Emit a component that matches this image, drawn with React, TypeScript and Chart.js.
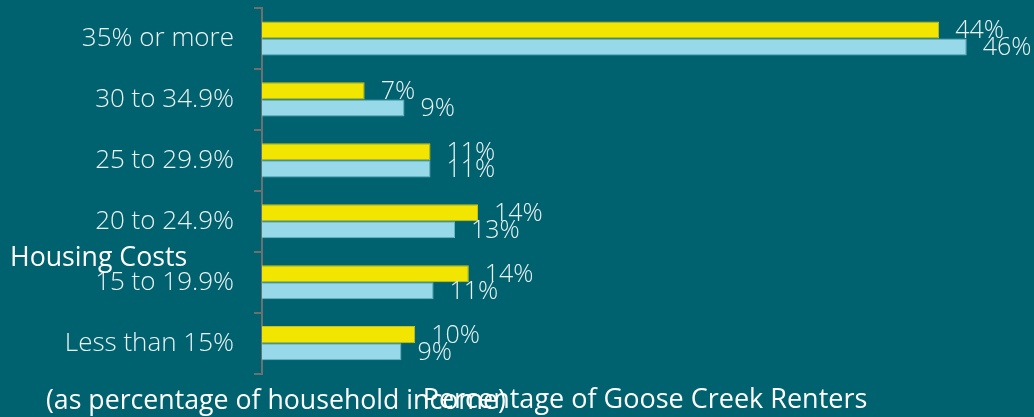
import React, { useEffect, useRef } from "react";
import { Chart, registerables } from "chart.js";

Chart.register(...registerables);

// ---- Data ----
const categories = [
  "35% or more",
  "30 to 34.9%",
  "25 to 29.9%",
  "20 to 24.9%",
  "15 to 19.9%",
  "Less than 15%",
];
const seriesYellow = [44.2, 6.7, 11.0, 14.1, 13.5, 10.0];
const seriesBlue = [46.0, 9.3, 11.0, 12.6, 11.2, 9.1];
const seriesNames = ["Goose Creek Renters", "Comparison"];
const xTitle = "Percentage of Goose Creek Renters";
const yTitleMain = "Housing Costs";
const yTitleSub = "(as percentage of household income)";
const xMax = 50;

// ---- Styles ----
const BG = "#00616f";
const YELLOW = "#f2e500";
const YELLOW_BORDER = "#c9c21a";
const BLUE = "#97d9e8";
const BLUE_BORDER = "#6ab7c6";
const AXIS_GREY = "#6f6f6f";
const TEXT = "#eaf2f4";
const TITLE = "#ffffff";
const FONT = "'Open Sans', 'Noto Sans', sans-serif";

const valueLabels = {
  id: "valueLabels",
  afterDatasetsDraw(chart: any) {
    const ctx = chart.ctx;
    ctx.save();
    ctx.font = `300 25px ${FONT}`;
    ctx.fillStyle = TEXT;
    ctx.textBaseline = "middle";
    ctx.textAlign = "left";
    chart.data.datasets.forEach((ds: any, i: number) => {
      chart.getDatasetMeta(i).data.forEach((el: any, j: number) => {
        const v = ds.data[j];
        ctx.fillText(Math.round(v) + "%", el.x + 16, el.y + 1);
      });
    });
    ctx.restore();
  },
};

const yTitlePlugin = {
  id: "yTitlePlugin",
  afterDraw(chart: any) {
    const ctx = chart.ctx;
    ctx.save();
    ctx.font = `400 26.7px ${FONT}`;
    ctx.fillStyle = TITLE;
    ctx.textBaseline = "middle";
    ctx.textAlign = "left";
    ctx.fillText(yTitleMain, 10, 258);
    ctx.fillText(yTitleSub, 46, 401);
    ctx.restore();
  },
};

export default function App() {
  const ref = useRef<HTMLCanvasElement | null>(null);

  useEffect(() => {
    if (!ref.current) return;
    const chart = new Chart(ref.current, {
      type: "bar",
      data: {
        labels: categories,
        datasets: [
          {
            label: seriesNames[0],
            data: seriesYellow,
            backgroundColor: YELLOW,
            borderColor: YELLOW_BORDER,
            borderWidth: 1,
            categoryPercentage: 0.56,
            barPercentage: 1,
          },
          {
            label: seriesNames[1],
            data: seriesBlue,
            backgroundColor: BLUE,
            borderColor: BLUE_BORDER,
            borderWidth: 1,
            categoryPercentage: 0.56,
            barPercentage: 1,
          },
        ],
      },
      options: {
        indexAxis: "y",
        responsive: false,
        animation: false,
        layout: { padding: { top: 8, right: 6, bottom: 0, left: 0 } },
        plugins: {
          legend: { display: false },
          tooltip: { enabled: false },
        },
        scales: {
          x: {
            min: 0,
            max: xMax,
            ticks: { display: false },
            grid: { display: false },
            border: { display: false },
            title: {
              display: true,
              text: xTitle,
              color: TITLE,
              font: { family: FONT, size: 27, weight: "400" },
              padding: { top: 3, bottom: 0 },
            },
            afterFit(scale: any) {
              scale.paddingLeft = 0;
              scale.paddingRight = 0;
            },
          },
          y: {
            afterFit(scale: any) {
              scale.width = 262;
              scale.paddingTop = 0;
              scale.paddingBottom = 0;
            },
            ticks: {
              color: TEXT,
              font: { family: FONT, size: 26, weight: "300" },
              padding: 20,
            },
            grid: {
              display: true,
              drawOnChartArea: false,
              drawTicks: true,
              tickLength: 8,
              color: AXIS_GREY,
              lineWidth: 2,
              offset: true,
            },
            border: { display: true, color: AXIS_GREY, width: 2 },
          },
        },
      },
      plugins: [valueLabels, yTitlePlugin],
    });
    return () => chart.destroy();
  }, []);

  return (
    <div
      style={{
        position: "fixed",
        left: 0,
        top: 0,
        width: 1034,
        height: 417,
        background: BG,
      }}
    >
      <canvas ref={ref} width={1034} height={417} style={{ display: "block" }} />
    </div>
  );
}
